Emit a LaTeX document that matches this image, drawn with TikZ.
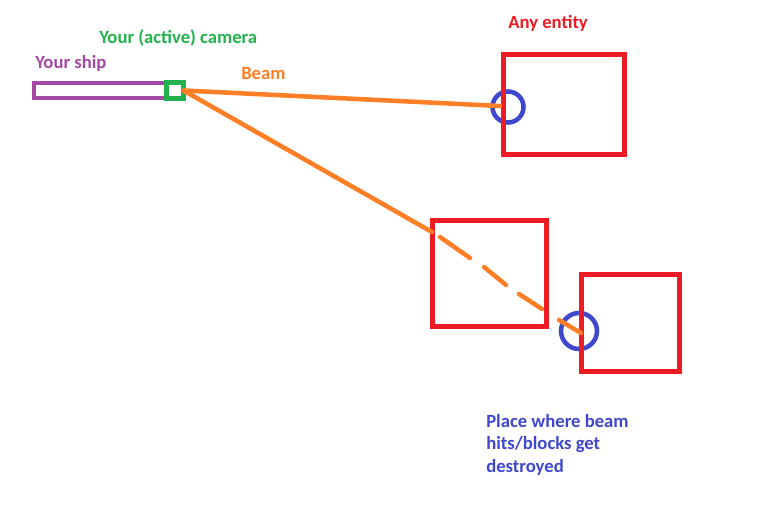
\documentclass[tikz,border=0pt]{standalone}
\usepackage{fontspec}
\setmainfont{Carlito}
\definecolor{pgreen}{HTML}{22B14C}
\definecolor{ppurple}{HTML}{A349A4}
\definecolor{porange}{HTML}{FF7F27}
\definecolor{pred}{HTML}{ED1C24}
\definecolor{pblue}{HTML}{3F48CC}
\begin{document}
\begin{tikzpicture}[x=0.75pt,y=-0.75pt,
  frame/.style 2 args={draw,rectangle,inner sep=0pt,outer sep=0pt,
    minimum width=#1*0.75pt,minimum height=#2*0.75pt},
  hitring/.style={draw=pblue,circle,line width=3.4pt,inner sep=0pt,outer sep=0pt,minimum size=#1*0.75pt},
  entity/.style={line width=3.6pt,draw=pred},
  beam/.style={draw=porange,line width=3.4pt,line cap=round},
  lbl/.style={anchor=base west,inner sep=0pt,font=\fontsize{14}{17}\selectfont\bfseries}]
\useasboundingbox[fill=white] (0,0) rectangle (766,520);
% hit rings
\node[hitring=31] (ring1) at (508,107) {};
\node[hitring=36] (ring2) at (579,331) {};
% entities
\node[frame={121}{100},entity] (box1) at (564,104.5) {};
\node[frame={114}{106},entity] (box2) at (489.5,273.5) {};
\node[frame={98}{97},entity] (box3) at (630.5,323) {};
% ship and camera
\node[frame={132}{15},draw=ppurple,line width=3.4pt] (ship) at (100,90.5) {};
\node[frame={17}{16},draw=pgreen,line width=3.8pt] (camera) at (175,90.5) {};
% beam coordinates
\coordinate (hit1) at (500,106);
\coordinate (entry) at (432,232);
\coordinate (d1a) at (440,237); \coordinate (d1b) at (470,258);
\coordinate (d2a) at (484,267); \coordinate (d2b) at (506,285);
\coordinate (d3a) at (519,294); \coordinate (d3b) at (542,309);
\coordinate (d4a) at (559,320); \coordinate (hit2) at (581,333);
\path[beam] (camera.east) -- (hit1);
\path[beam] (camera.east) -- (entry);
\path[beam] (d1a) -- (d1b);
\path[beam] (d2a) -- (d2b);
\path[beam] (d3a) -- (d3b);
\path[beam] (d4a) -- (hit2);
% labels
\node[lbl,text=pgreen] (camlbl) at (99,44) {Your (active) camera};
\node[lbl,text=ppurple] (shiplbl) at (35,69) {Your ship};
\node[lbl,text=porange] (beamlbl) at (241,80) {Beam};
\node[lbl,text=pred] (entlbl) at (508,29) {Any entity};
\node[lbl,text=pblue] (place1) at (486,427) {Place where beam};
\node[lbl,text=pblue] (place2) at (486,449.5) {hits/blocks get};
\node[lbl,text=pblue] (place3) at (486,472) {destroyed};
\end{tikzpicture}
\end{document}
